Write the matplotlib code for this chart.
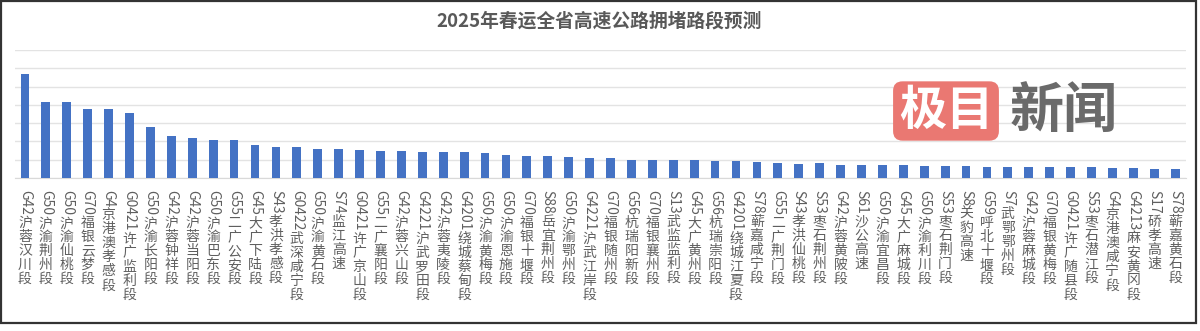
import matplotlib
matplotlib.use("Agg")
import matplotlib.pyplot as plt
import matplotlib.transforms as mtransforms
from matplotlib.patches import Rectangle
import numpy as np
import re

plt.rcParams['font.family'] = ['Noto Sans CJK SC', 'DejaVu Sans']

# road sections, left to right
sections = [
    "G42沪蓉汉川段", "G50沪渝荆州段", "G50沪渝仙桃段", "G70福银云梦段", "G4京港澳孝感段",
    "G0421许广监利段", "G50沪渝长阳段", "G42沪蓉钟祥段", "G42沪蓉当阳段", "G50沪渝巴东段",
    "G55二广公安段", "G45大广下陆段", "S43孝洪孝感段", "G0422武深咸宁段", "G50沪渝黄石段",
    "S74监江高速", "G0421许广京山段", "G55二广襄阳段", "G42沪蓉兴山段", "G4221沪武罗田段",
    "G42沪蓉夷陵段", "G4201绕城蔡甸段", "G50沪渝黄梅段", "G50沪渝恩施段", "G70福银十堰段",
    "S88岳宜荆州段", "G50沪渝鄂州段", "G4221沪武江岸段", "G70福银随州段", "G56杭瑞阳新段",
    "G70福银襄州段", "S13武监监利段", "G45大广黄州段", "G56杭瑞崇阳段", "G4201绕城江夏段",
    "S78蕲嘉咸宁段", "G55二广荆门段", "S43孝洪仙桃段", "S53枣石荆州段", "G42沪蓉黄陂段",
    "S61沙公高速", "G50沪渝宜昌段", "G45大广麻城段", "G50沪渝利川段", "S53枣石荆门段",
    "S8关豹高速", "G59呼北十堰段", "S7武鄂鄂州段", "G42沪蓉麻城段", "G70福银黄梅段",
    "G0421许广随县段", "S53枣石潜江段", "G4京港澳咸宁段", "G4213麻安黄冈段", "S17硚孝高速",
    "S78蕲嘉黄石段",
]

# bar heights (gridline = 1 unit, no axis labels shown)
values = [
    5.67, 4.18, 4.13, 3.77, 3.77, 3.55, 2.77, 2.27, 2.19, 2.10,
    2.05, 1.79, 1.71, 1.71, 1.60, 1.56, 1.52, 1.48, 1.48, 1.43,
    1.43, 1.43, 1.34, 1.27, 1.20, 1.20, 1.14, 1.12, 1.10, 1.01,
    1.01, 0.98, 0.98, 0.92, 0.91, 0.89, 0.80, 0.79, 0.80, 0.72,
    0.72, 0.72, 0.69, 0.65, 0.65, 0.65, 0.62, 0.62, 0.60, 0.60,
    0.60, 0.60, 0.56, 0.56, 0.51, 0.51,
]

title = "2025年春运全省高速公路拥堵路段预测"

fig = plt.figure(figsize=(12, 3.31), dpi=100)
ax = fig.add_axes([0.0121, 0.4622, 0.9759, 0.387])

x = np.arange(len(sections))
ax.bar(x, values, width=0.42, color='#4472C4', zorder=3)
ax.set_xlim(-0.5, len(sections) - 0.5)
ax.set_ylim(0, 7)
ax.set_yticks(np.arange(0, 8, 1))
ax.grid(axis='y', color='#e3e3e3', lw=1, zorder=0)
ax.set_xticks(x)
ax.tick_params(length=0, labelbottom=False, labelleft=False)
for s in ['top', 'right', 'left']:
    ax.spines[s].set_visible(False)
ax.spines['bottom'].set_color('#d9d9d9')

# vertical labels: latin code rotated, chinese characters stacked upright
trans = mtransforms.blended_transform_factory(ax.transData, ax.transAxes)
fig.canvas.draw()
renderer = fig.canvas.get_renderer()
lab_color = '#5f5f5f'
for i, name in enumerate(sections):
    m = re.match(r'[A-Za-z0-9]+', name)
    code = m.group(0)
    rest = name[len(code):]
    t = ax.annotate(code, xy=(i, 0), xycoords=trans, xytext=(0, -8.5), textcoords='offset points',
                    rotation=-90, ha='center', va='top', fontsize=10, color=lab_color,
                    annotation_clip=False)
    h = t.get_window_extent(renderer).height * 72 / fig.dpi
    ax.annotate("\n".join(rest), xy=(i, 0), xycoords=trans, xytext=(0, -8.5 - h - 1),
                textcoords='offset points', ha='center', va='top', fontsize=10,
                color=lab_color, linespacing=1.0, annotation_clip=False)

fig.text(0.4995, 1 - 21 / 331, title, ha='center', va='center', fontsize=13.5,
         fontweight='bold', color='#595959')

# watermark
fig.text(946 / 1200, 1 - 111 / 331, "极目", ha='center', va='center', fontsize=34,
         fontweight='bold', color='white',
         bbox=dict(boxstyle='round,pad=0.12,rounding_size=0.2', fc='#ea7872', ec='none'))
fig.text(1064 / 1200, 1 - 112 / 331, "新闻", ha='center', va='center', fontsize=39,
         fontweight='bold', color='#6a6a6a')

# screenshot frame
fig.add_artist(Rectangle((1 / 1200, 1 - 323 / 331), 1195 / 1200, 322 / 331,
                         transform=fig.transFigure, fill=False, ec='#333333', lw=1.6))

fig.savefig('out.png', dpi=100)
